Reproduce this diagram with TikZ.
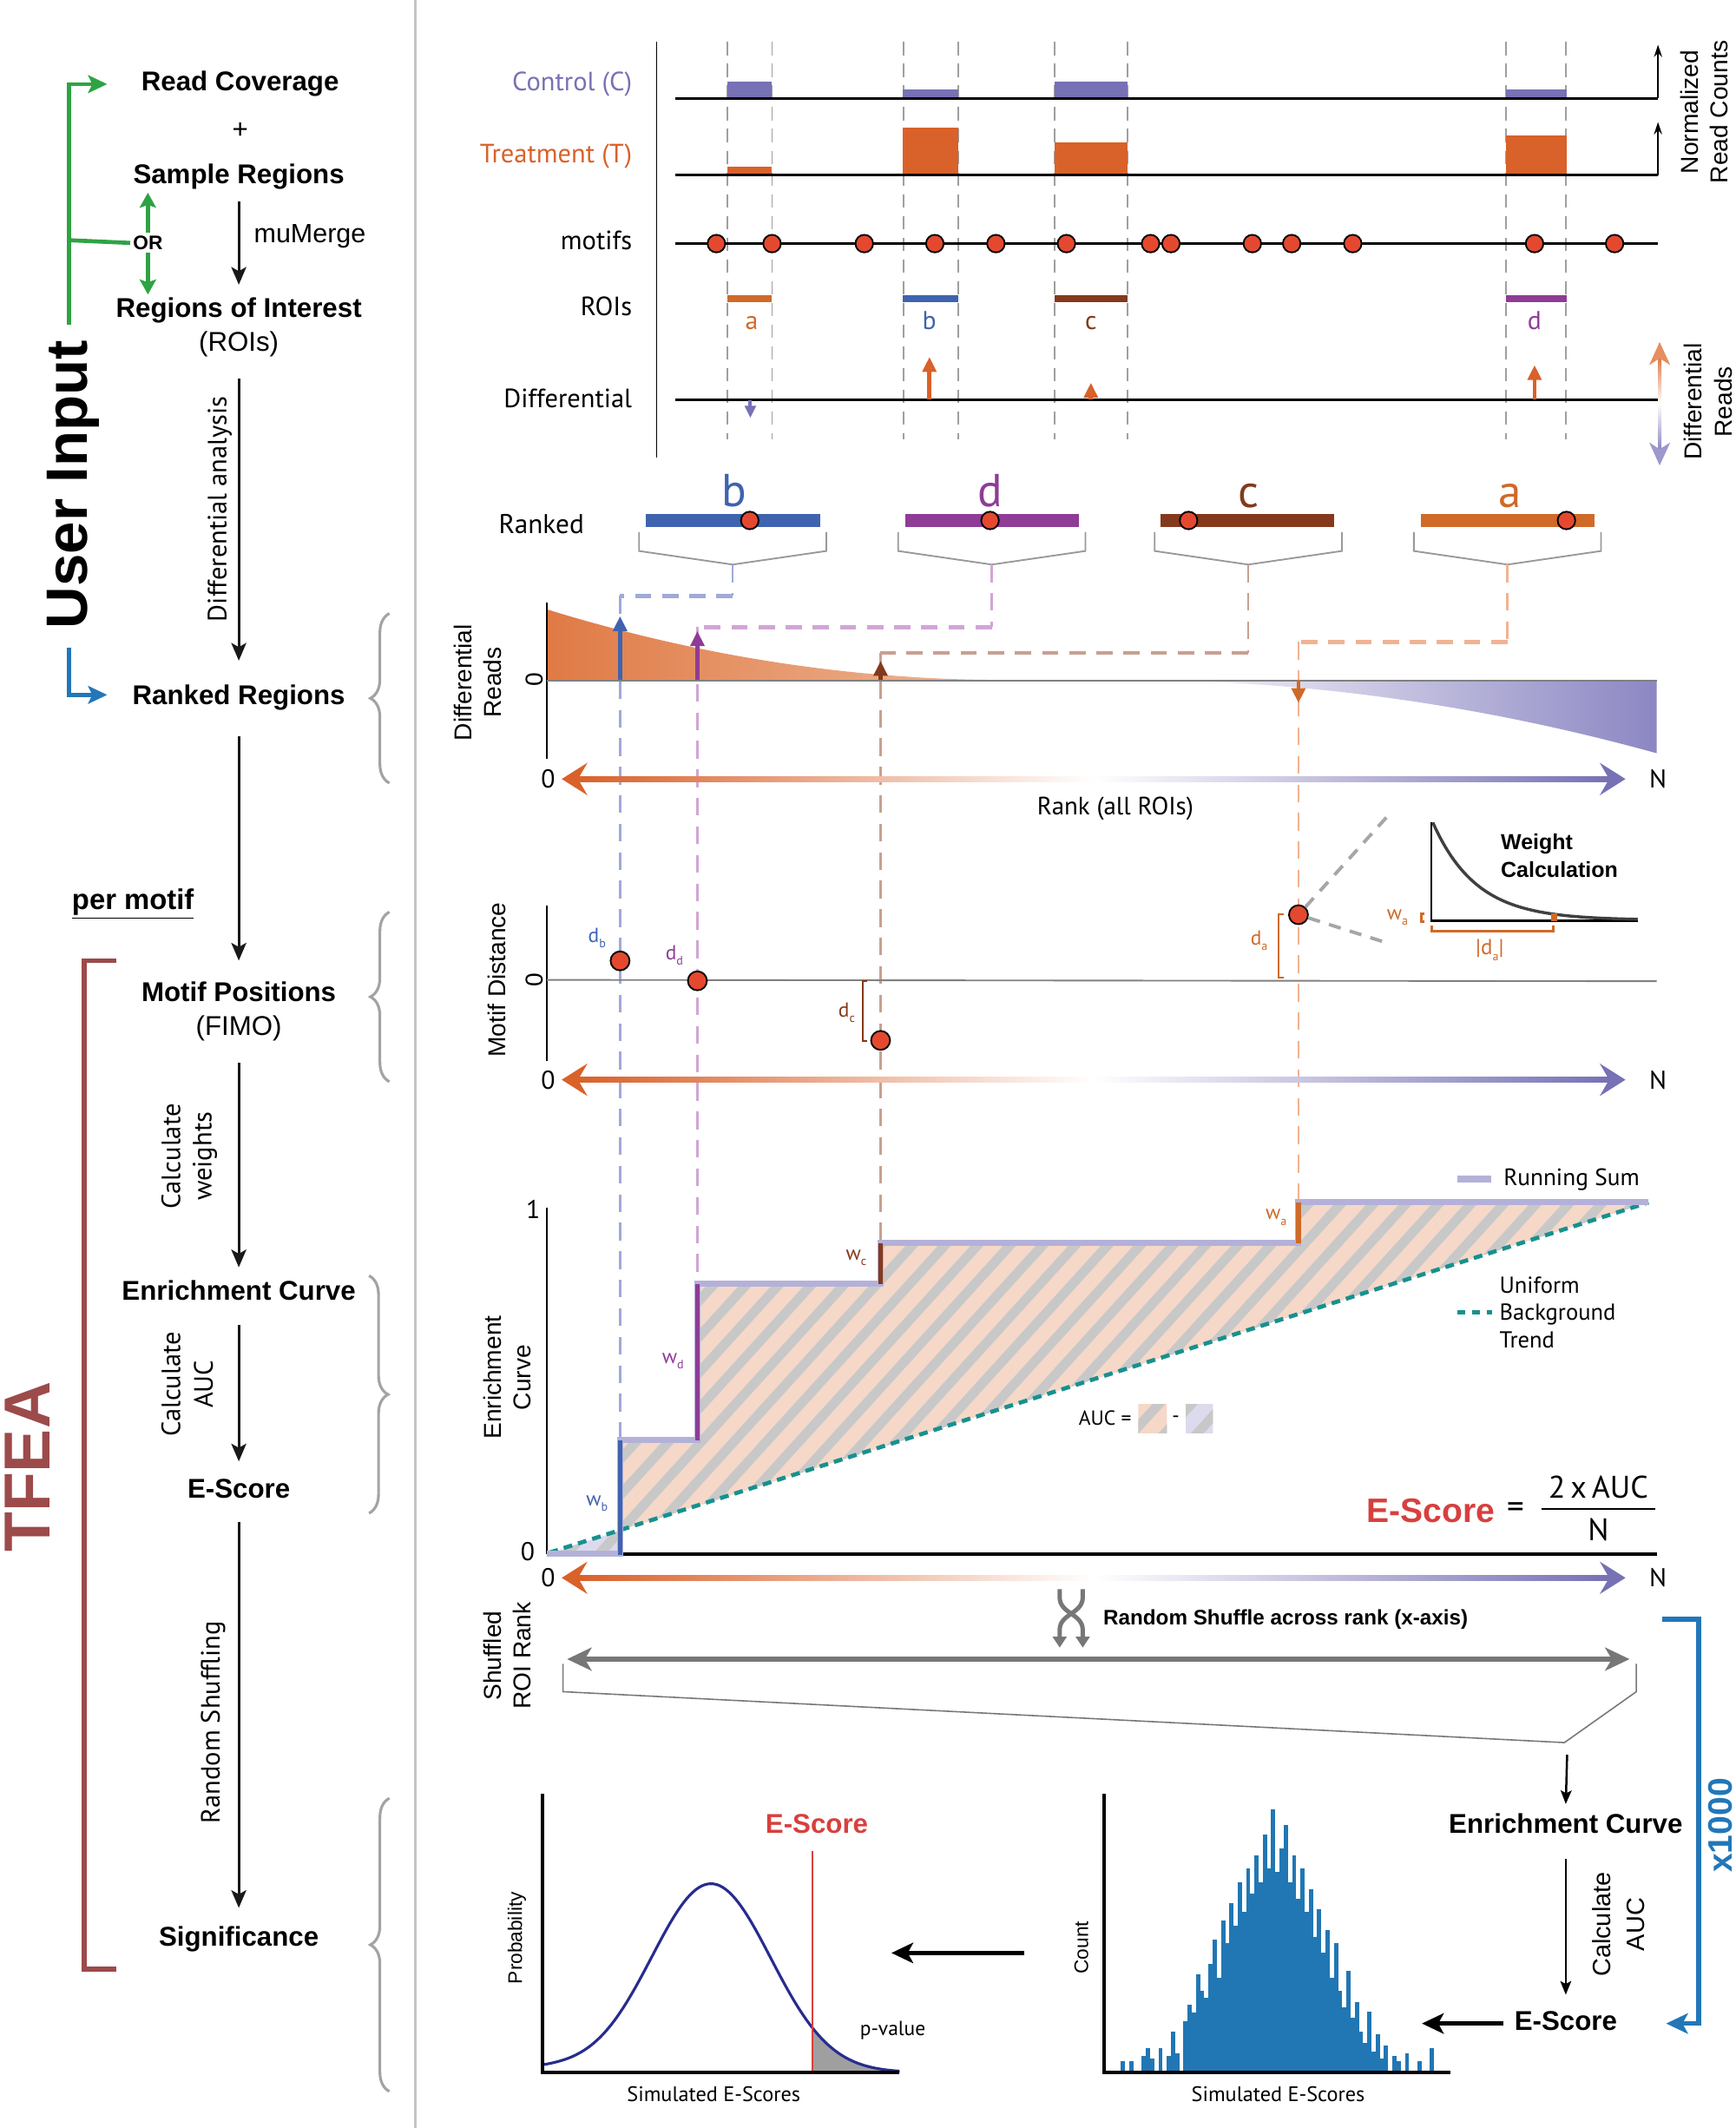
\documentclass[tikz,border=0pt]{standalone}
\usepackage{fontspec}
\setmainfont{Liberation Sans}
\newfontfamily\pts{PT Sans}
\usetikzlibrary{arrows.meta,decorations.pathreplacing}
\definecolor{cPu}{HTML}{7771B5}
\definecolor{cOr}{HTML}{D9612A}
\definecolor{rA}{HTML}{CF6A28}
\definecolor{rB}{HTML}{3F63AF}
\definecolor{rC}{HTML}{85391C}
\definecolor{rD}{HTML}{8E3C96}
\definecolor{dA}{HTML}{F1B391}
\definecolor{dB}{HTML}{A0A9D9}
\definecolor{dC}{HTML}{C8A090}
\definecolor{dD}{HTML}{D2A5D6}
\definecolor{motred}{HTML}{E4492F}
\definecolor{gGreen}{HTML}{2EA343}
\definecolor{gBlue}{HTML}{2277B8}
\definecolor{tfea}{HTML}{9C4A4A}
\definecolor{brgray}{HTML}{A3A3A3}
\definecolor{peach}{HTML}{F5D8C8}
\definecolor{lav}{HTML}{DCDBEE}
\definecolor{stripeg}{HTML}{C8C8C8}
\definecolor{rsum}{HTML}{B4B1D9}
\definecolor{teal}{HTML}{17918F}
\definecolor{hist}{HTML}{2077B4}
\definecolor{navy}{HTML}{272C8E}
\definecolor{escore}{HTML}{D7403D}
\definecolor{ldiv}{HTML}{C4C4C4}
\definecolor{oLt}{HTML}{EDB898}
\definecolor{oDk}{HTML}{E07A45}
\definecolor{pLt}{HTML}{D8D6EC}
\definecolor{pDk}{HTML}{8C87C3}
\definecolor{dgray}{HTML}{777777}
\newcommand\fsz[2]{\fontsize{#1}{#2}\selectfont}
\newcommand\gradaxis[1]{%
  \shade[left color=cOr, right color=cPu, middle color=white] (426,#1-2) rectangle (1186,#1+2);
  \fill[cOr] (414,#1) -- (433,#1-12) -- (426,#1) -- (433,#1+12) -- cycle;
  \fill[cPu] (1198,#1) -- (1179,#1-12) -- (1186,#1) -- (1179,#1+12) -- cycle;
}
\newcommand\stripeset{\foreach \s in {140,164,...,1244} {\draw[stripe] (\s,1160) -- ++(300,-330);}}
\begin{document}
\begin{tikzpicture}[x=1pt,y=-1pt,
  lbl/.style={font=\bfseries\fsz{20}{24}, inner sep=0pt, text height=14.5pt, text depth=4.5pt},
  lblr/.style={font=\fsz{20}{24}, inner sep=0pt, text height=14.5pt, text depth=4.5pt},
  flow/.style={draw=black!90, line width=2pt, -{Stealth[length=13pt,width=11pt,inset=3pt]}},
  rot/.style={font=\pts\fsz{19.5}{22}, rotate=90, inner sep=0pt},
  rowlbl/.style={font=\pts\fsz{19.5}{22}, anchor=east, inner sep=0pt},
  axl/.style={font=\fsz{18}{22}, rotate=90, align=center, inner sep=0pt},
  ptl/.style={font=\pts\fsz{19}{22}, inner sep=0pt},
  gdash/.style={draw=gray!75, line width=1.2pt, dash pattern=on 10pt off 6pt},
  bracegray/.style={draw=brgray, line width=2pt, decorate, decoration={brace, amplitude=14pt}},
  motif/.style={circle, fill=motred, draw=black, line width=1.2pt, minimum size=13pt, inner sep=0pt},
  conn/.style={line width=1.6pt, dash pattern=on 13pt off 8pt},
  connh/.style={line width=3pt, dash pattern=on 12pt off 8pt},
  darr/.style={line width=3pt, -{Triangle[length=11pt,width=10pt]}},
  stripe/.style={draw=stripeg, line width=7pt},
  garr/.style={draw=gGreen, line width=3pt, -{Stealth[length=14pt,width=13pt,inset=3pt]}},
  garrs/.style={draw=gGreen, line width=3pt, -{Stealth[length=11pt,width=12pt,inset=2pt]}},
  barr/.style={draw=gBlue, line width=3pt, -{Stealth[length=14pt,width=13pt,inset=3pt]}},
  sarr/.style={draw=black, line width=1.6pt, -{Stealth[length=10pt,width=8pt,inset=2pt]}},
  barrow/.style={draw=black, line width=3pt, -{Stealth[length=16pt,width=15pt,inset=4pt]}},
]
\useasboundingbox (0,0) rectangle (1279,1568);
\fill[white] (0,0) rectangle (1279,1568);

% divider
\draw[ldiv, line width=2pt] (306,0) -- (306,1568);

% ================= LEFT COLUMN =================
\node[lbl] (rc) at (177,62) {Read Coverage};
\node[font=\fsz{20}{24}, inner sep=0pt] (plus) at (177,96) {+};
\node[lbl] (sr) at (176,130) {Sample Regions};
\node[lbl] (roi) at (176,229) {Regions of Interest};
\node[lblr] (roib) at (176,254) {(ROIs)};
\node[font=\fsz{19.5}{23}, anchor=west, inner sep=0pt] (mm) at (187,174) {muMerge};
\node[font=\bfseries\fsz{14.5}{17}, inner sep=2pt] (or) at (109,179) {OR};
\node[lbl] (rr) at (176,514) {Ranked Regions};
\node[font=\bfseries\fsz{21}{24}, inner sep=0pt] (pm) at (98,666) {\underline{per motif}};
\node[lbl] (mp) at (176,733) {Motif Positions};
\node[lblr] (fimo) at (176,758) {(FIMO)};
\node[lbl] (ec) at (176,953) {Enrichment Curve};
\node[lbl] (es) at (176,1099) {E-Score};
\node[lbl] (sig) at (176,1429) {Significance};

\draw[flow] ([yshift=-8.5pt]sr.south) -- ([yshift=9.5pt]roi.north);
\draw[flow] ([yshift=-15.5pt]roib.south) -- ([yshift=17.5pt]rr.north);
\draw[flow] ([yshift=-18.5pt]rr.south) -- ([yshift=15.5pt]mp.north);
\draw[flow] ([yshift=-15.5pt]fimo.south) -- ([yshift=9.5pt]ec.north);
\draw[flow] ([yshift=-13.5pt]ec.south) -- ([yshift=12.5pt]es.north);
\draw[flow] ([yshift=-12.5pt]es.south) -- ([yshift=13.5pt]sig.north);

\node[rot] (da) at (162,375) {Differential analysis};
\node[rot] (cw1) at (126,852) {Calculate};
\node[rot] (cw2) at (151,852) {weights};
\node[rot] (ca1) at (126,1020) {Calculate};
\node[rot] (ca2) at (150,1020) {AUC};
\node[rot] (rsh) at (157,1269) {Random Shuffling};

% user input
\node[rotate=90, font=\bfseries\fsz{43}{43}, inner sep=0pt] (ui) at (54,357) {User Input};
\coordinate (g0) at (51,239);
\coordinate (g1) at (79,62);
\draw[garr] (g0) |- (g1);
\coordinate (g2) at (51,177);
\draw[draw=gGreen, line width=3pt] (g2) -- (or.west);
\coordinate (g3) at (109,142);
\coordinate (g4) at (109,217);
\draw[garrs] (or.north) -- (g3);
\draw[garrs] (or.south) -- (g4);
\coordinate (b0) at (51,477);
\coordinate (b1) at (79,512);
\draw[barr] (b0) |- (b1);

% TFEA
\node[rotate=90, font=\bfseries\fsz{48}{48}, text=tfea, inner sep=0pt] (tf) at (20,1081) {TFEA};
\draw[tfea, line width=3.5pt] (86,708) -- (62,708) -- (62,1451) -- (86,1451);

% braces
\draw[bracegray] (287,577) -- (287,452);
\draw[bracegray] (287,797) -- (287,672);
\draw[bracegray] (272,940) -- (272,1115);
\draw[bracegray] (287,1541) -- (287,1325);

% ================= TOP PANEL =================
\draw[line width=1pt] (484,31) -- (484,337);
\foreach \x in {536,569,666,706,777,831,1110,1154} \draw[gdash] (\x,31) -- (\x,324);

\node[rowlbl, text=cPu] (lc) at (466,62) {Control (C)};
\node[rowlbl, text=cOr] (lt) at (466,115) {Treatment (T)};
\node[rowlbl] (lm) at (466,177) {motifs};
\node[rowlbl] (lr) at (466,226) {ROIs};
\node[rowlbl] (ld) at (466,293.5) {Differential};

% control
\fill[cPu] (536,60) rectangle (569,72.5);
\fill[cPu] (665,66) rectangle (706,72.5);
\fill[cPu] (777,60) rectangle (831,72.5);
\fill[cPu] (1110,66) rectangle (1155,72.5);
\draw[line width=2pt] (498,72.5) -- (1222,72.5);
\draw[line width=1.2pt, -{Stealth[length=9pt,width=6pt]}] (1222,72.5) -- (1222,33);
% treatment
\fill[cOr] (536,123) rectangle (569,129);
\fill[cOr] (665,94) rectangle (706,129);
\fill[cOr] (777,105) rectangle (831,129);
\fill[cOr] (1110,100) rectangle (1155,129);
\draw[line width=2pt] (498,129) -- (1222,129);
\draw[line width=1.2pt, -{Stealth[length=9pt,width=6pt]}] (1222,129) -- (1222,90);
\node[axl] (nrc) at (1256,82.5) {Normalized\\Read Counts};

% motifs
\draw[line width=2pt] (498,179.5) -- (1222,179.5);
\foreach \x [count=\i] in {528,569,637,689,734,786,848,863,923,952,997,1131,1190}
  \node[motif] (m\i) at (\x,179.5) {};

% ROIs
\fill[rA] (536,217.5) rectangle (569,222.5);
\fill[rB] (665,217.5) rectangle (706,222.5);
\fill[rC] (777,217.5) rectangle (831,222.5);
\fill[rD] (1110,217.5) rectangle (1155,222.5);
\node[font=\pts\fsz{19}{22}, text=rA, anchor=base, inner sep=0pt] (ra) at (554,243) {a};
\node[font=\pts\fsz{19}{22}, text=rB, anchor=base, inner sep=0pt] (rb) at (685,243) {b};
\node[font=\pts\fsz{19}{22}, text=rC, anchor=base, inner sep=0pt] (rcc) at (804,243) {c};
\node[font=\pts\fsz{19}{22}, text=rD, anchor=base, inner sep=0pt] (rd) at (1131,243) {d};

% differential row
\draw[line width=2pt] (498,294.5) -- (1222,294.5);
\draw[cPu, line width=2.5pt, -{Triangle[length=9pt,width=8pt]}] (553,295) -- (553,308);
\draw[cOr, darr] (685,294.5) -- (685,263);
\draw[cOr, darr] (804,294.5) -- (804,282);
\draw[cOr, darr] (1131,294.5) -- (1131,269);
\shade[top color=oDk, bottom color=pDk, middle color=white] (1222,264) rectangle (1224.5,331);
\fill[oDk!85] (1223.2,252) -- (1215.5,269) -- (1223.2,264) -- (1231,269) -- cycle;
\fill[pDk!85] (1223.2,343) -- (1215.5,326) -- (1223.2,331) -- (1231,326) -- cycle;
\node[axl] (drl) at (1259,296) {Differential\\Reads};

% ================= RANKED =================
\node[font=\pts\fsz{20}{24}, inner sep=0pt] (rk) at (399,386) {Ranked};
\fill[rB] (476,379) rectangle (604.5,388);
\fill[rD] (667.5,379) rectangle (795.5,388);
\fill[rC] (855.5,379) rectangle (983.5,388);
\fill[rA] (1047,379) rectangle (1175,388);
\node[motif] (kb) at (552.6,383.5) {};
\node[motif] (kd) at (729.7,383.5) {};
\node[motif] (kc) at (876,383.5) {};
\node[motif] (ka) at (1154.5,383.5) {};
\node[font=\pts\fsz{34}{40}, text=rB, anchor=base, inner sep=0pt] (Lb) at (541,373) {b};
\node[font=\pts\fsz{34}{40}, text=rD, anchor=base, inner sep=0pt] (Ld) at (730,373) {d};
\node[font=\pts\fsz{34}{40}, text=rC, anchor=base, inner sep=0pt] (Lc) at (920,374) {c};
\node[font=\pts\fsz{34}{40}, text=rA, anchor=base, inner sep=0pt] (La) at (1113,374) {a};
\foreach \c in {540,731,920,1111}
  \draw[gray!80, line width=1.2pt] (\c-69,392) -- (\c-69,406) -- (\c,416) -- (\c+69,406) -- (\c+69,392);

% ================= DIFFERENTIAL PLOT =================
\shade[left color=oDk, right color=oLt] (403,501) -- (403,449) .. controls (515.7,483.7) and (628.3,501) .. (741,501) -- cycle;
\shade[left color=white, right color=pDk] (830,501) .. controls (960.3,501) and (1090.7,519) .. (1221,555) -- (1221,501) -- cycle;

% connectors (dashed)
\draw[dB, conn] (540,416) -- (540,439);
\draw[dB, connh] (540,439) -- (457,439);
\draw[dB, conn] (457,439) -- (457,1061);
\draw[dD, conn] (731,416) -- (731,462);
\draw[dD, connh] (731,462) -- (514,462);
\draw[dD, conn] (514,462) -- (514,946);
\draw[dC, conn] (920,416) -- (920,481);
\draw[dC, connh] (920,481) -- (649,481);
\draw[dC, conn] (649,481) -- (649,916);
\draw[dA, conn] (1111,416) -- (1111,473);
\draw[dA, connh] (1111,473) -- (957,473);
\draw[dA, conn] (957,473) -- (957,886);

\draw[line width=1pt] (403,444) -- (403,559);
\draw[gray, line width=1.5pt] (403,501.5) -- (1221,501.5);
\draw[rB, darr] (457,501) -- (457,454);
\draw[rD, darr] (514,501) -- (514,465);
\draw[rC, darr] (649,501) -- (649,487);
\draw[rA, darr] (957,501) -- (957,518);
\node[axl] (z0d) at (394,501) {0};
\node[axl] (dlab) at (352,503) {Differential\\Reads};

\gradaxis{574}
\node[ptl] (z1) at (404,574) {0};
\node[ptl] (n1) at (1222,574) {N};
\node[font=\pts\fsz{18.5}{22}, inner sep=0pt] (rkl) at (822,596) {Rank (all ROIs)};

% ================= MOTIF DISTANCE =================
\draw[line width=1pt] (403,667) -- (403,782);
\draw[gray, line width=1.2pt] (403,722) -- (1221,723);
\node[axl] (z0m) at (394,722) {0};
\node[axl] (mdl) at (366,722) {Motif Distance};
\draw[rC, line width=1.5pt] (639,723) -- (636,723) -- (636,767) -- (639,767);
\draw[rA, line width=1.5pt] (946,673.5) -- (942.5,673.5) -- (942.5,720.5) -- (946,720.5);
\node[motif, minimum size=14pt] (pb) at (457,708) {};
\node[motif, minimum size=14pt] (pd) at (514,722.7) {};
\node[motif, minimum size=14pt] (pc) at (649,766.6) {};
\node[motif, minimum size=14pt] (pa) at (957,674) {};
\node[font=\pts\fsz{15}{18}, text=rB, inner sep=0pt] (ldb) at (440,691) {d\raisebox{-4pt}{\fsz{9}{9}b}};
\node[font=\pts\fsz{15}{18}, text=rD, inner sep=0pt] (ldd) at (497,704) {d\raisebox{-4pt}{\fsz{9}{9}d}};
\node[font=\pts\fsz{15}{18}, text=rC, inner sep=0pt] (ldc) at (624,746) {d\raisebox{-4pt}{\fsz{9}{9}c}};
\node[font=\pts\fsz{15}{18}, text=rA, inner sep=0pt] (lda) at (928,693) {d\raisebox{-4pt}{\fsz{9}{9}a}};

% weight inset
\coordinate (wi1) at (1023,601);
\coordinate (wi2) at (1023,695);
\draw[gray!70, line width=2.5pt, dash pattern=on 9pt off 7pt] (pa) -- (wi1);
\draw[gray!70, line width=2.5pt, dash pattern=on 9pt off 7pt] (pa) -- (wi2);
\draw[line width=1.5pt] (1055,606) -- (1055,678.5) -- (1207,678.5);
\draw[gray!50!black, line width=2.2pt] plot[domain=1056:1207, samples=80] (\x, {678-72*exp(-(\x-1056)/32)});
\fill[rA] (1143,673) rectangle (1147.5,678.5);
\draw[rA, line width=2pt] (1055,682) -- (1055,686) -- (1145,686) -- (1145,682);
\draw[rA, line width=2pt] (1050,673.5) -- (1047.5,673.5) -- (1047.5,679) -- (1050,679);
\node[font=\pts\fsz{15}{18}, text=rA, inner sep=0pt] (lwa) at (1030,676) {w\raisebox{-4pt}{\fsz{9}{9}a}};
\node[font=\pts\fsz{16}{18}, text=rA, inner sep=0pt] (lda2) at (1098,700) {|d\raisebox{-4pt}{\fsz{9}{9}a}|};
\node[font=\bfseries\fsz{16}{20.5}, align=left, anchor=west, inner sep=0pt] (wc) at (1106,630.5) {Weight\\Calculation};

\gradaxis{795.6}
\node[ptl] (z2) at (404,795.6) {0};
\node[ptl] (n2) at (1222,795.6) {N};

% ================= ENRICHMENT =================
\begin{scope}
  \clip (457,1127.8) -- (457,1061) -- (514,1061) -- (514,946) -- (649,946) -- (649,916) -- (957,916) -- (957,886) -- (1215,886) -- cycle;
  \fill[peach] (400,880) rectangle (1220,1150);
  \stripeset
\end{scope}
\begin{scope}
  \clip (403,1145) -- (457,1145) -- (457,1127.8) -- cycle;
  \fill[lav] (400,1100) rectangle (460,1150);
  \stripeset
\end{scope}
\draw[line width=1pt] (403,890) -- (403,1145);
\draw[line width=2.5pt] (403,1145) -- (1221,1145);
\draw[teal, line width=3pt, dash pattern=on 6.5pt off 4.5pt] (405,1144) -- (1215,886);
\draw[rsum, line width=4.5pt] (403,1145) -- (457,1145) -- (457,1061) -- (514,1061) -- (514,946) -- (649,946) -- (649,916) -- (957,916) -- (957,886) -- (1215,886);
\draw[rB, line width=3.5pt] (457,1146) -- (457,1061);
\draw[rD, line width=3.5pt] (514,1061) -- (514,946);
\draw[rC, line width=3.5pt] (649,946) -- (649,916);
\draw[rA, line width=3.5pt] (957,916) -- (957,886);
\node[font=\pts\fsz{15}{18}, text=rB, inner sep=0pt] (lwb) at (440,1108) {w\raisebox{-4pt}{\fsz{9}{9}b}};
\node[font=\pts\fsz{15}{18}, text=rD, inner sep=0pt] (lwd) at (496,1003) {w\raisebox{-4pt}{\fsz{9}{9}d}};
\node[font=\pts\fsz{15}{18}, text=rC, inner sep=0pt] (lwc) at (631,927) {w\raisebox{-4pt}{\fsz{9}{9}c}};
\node[font=\pts\fsz{15}{18}, text=rA, inner sep=0pt] (lwa2) at (940.5,897) {w\raisebox{-4pt}{\fsz{9}{9}a}};
\node[ptl] (one) at (393,891) {1};
\node[ptl] (zero) at (389,1143) {0};
\node[axl] (ecl) at (374,1015) {Enrichment\\Curve};

\draw[rsum, line width=5pt] (1074,869) -- (1099,869);
\node[font=\pts\fsz{17.5}{20}, anchor=west, inner sep=0pt] (lrs) at (1108,869) {Running Sum};
\draw[teal, line width=3.5pt, dash pattern=on 6pt off 5pt] (1074,967) -- (1100,967);
\node[font=\pts\fsz{17}{20.3}, anchor=west, align=left, inner sep=0pt] (lub) at (1105,967) {Uniform\\Background\\Trend};

\node[font=\pts\fsz{15}{18}, anchor=east, inner sep=0pt] (auc) at (834,1045) {AUC =};
\begin{scope}
  \clip (839,1035) rectangle (860,1056);
  \fill[peach] (830,1030) rectangle (870,1060);
  \stripeset
\end{scope}
\node[font=\pts\fsz{15}{18}, inner sep=0pt] (aucm) at (866.5,1046) {-};
\begin{scope}
  \clip (874,1035) rectangle (894,1056);
  \fill[lav] (870,1030) rectangle (900,1060);
  \stripeset
\end{scope}

\node[font=\bfseries\fsz{25}{28}, text=escore, anchor=east, inner sep=0pt] (efl) at (1102,1113) {E-Score};
\node[font=\pts\fsz{25}{28}, inner sep=0pt] (eq) at (1117,1113) {=};
\node[font=\pts\fsz{23}{26}, inner sep=0pt] (num) at (1178,1096) {2\,x\,AUC};
\draw[line width=1.5pt] (1136,1112) -- (1220,1112);
\node[font=\pts\fsz{23}{26}, inner sep=0pt] (den) at (1178,1127) {N};

\gradaxis{1162.6}
\node[ptl] (z3) at (404,1162.6) {0};
\node[ptl] (n3) at (1222,1162.6) {N};

% ================= SHUFFLE =================
\draw[dgray, line width=3.2pt, -{Triangle[length=8pt,width=10pt]}] (781,1171) -- (781,1177) .. controls (781,1189) and (798,1189) .. (798,1201) -- (798,1214);
\draw[dgray, line width=3.2pt, -{Triangle[length=8pt,width=10pt]}] (798,1171) -- (798,1177) .. controls (798,1189) and (781,1189) .. (781,1201) -- (781,1214);
\node[font=\bfseries\fsz{15.5}{18}, anchor=west, inner sep=0pt] (rsl) at (813,1193) {Random Shuffle across rank (x-axis)};
\draw[dgray, line width=4pt, {Stealth[length=18pt,width=17pt,inset=5pt]}-{Stealth[length=18pt,width=17pt,inset=5pt]}] (418,1222.5) -- (1201,1222.5);
\draw[dgray, line width=1pt] (415,1226) -- (415,1246.5) -- (1153,1284) -- (1206,1246.5) -- (1206,1226);
\node[axl] (srr) at (374,1220) {Shuffled\\ROI Rank};

% x1000 loop
\node[rotate=90, font=\bfseries\fsz{25}{28}, text=gBlue, inner sep=0pt] (x1k) at (1268,1345) {x1000};

% bottom right flow
\node[lbl] (ec2) at (1154,1346) {Enrichment Curve};
\node[lbl] (es2) at (1154,1491) {E-Score};
\coordinate (fun) at (1155,1293);
\draw[sarr] (fun) -- ([yshift=7pt]ec2.north);
\draw[sarr] ([yshift=-14pt]ec2.south) -- ([yshift=11.5pt]es2.north);
\node[axl, font=\fsz{18.5}{25}] (cal2) at (1193,1418) {Calculate\\AUC};
\coordinate (lp0) at (1225,1193);
\coordinate (lp1) at (1228,1491);
\draw[draw=gBlue, line width=3.5pt, -{Stealth[length=16pt,width=15pt,inset=4pt]}] (lp0) -- (1252,1193) -- (1252,1491) -- (lp1);

% histogram
\foreach \h [count=\i from 0] in {8,0,8,0,0,12,18,10,0,18,0,12,30,14,0,38,50,44,72,60,55,80,98,70,112,95,125,108,140,118,150,132,160,140,175,150,194,148,165,182,140,160,128,150,118,135,100,120,88,105,70,95,60,48,75,40,52,30,22,45,15,28,10,20,0,12,8,0,14,0,0,8,0,0,18}
  \fill[hist] (826+3.08*\i,1527) rectangle ++(3.08,-\h);
\draw[line width=2.5pt] (814,1322) -- (814,1527) -- (1069,1527);
\node[axl, font=\fsz{14.5}{17}] (cnt) at (797,1435) {Count};
\node[font=\pts\fsz{15.5}{18}, inner sep=0pt] (sim2) at (942,1543) {Simulated E-Scores};
\draw[barrow] ([xshift=-8pt]es2.west) -- (1048,1491);
\coordinate (h2p) at (755,1439);
\coordinate (pend) at (657,1439);
\draw[barrow] (h2p) -- (pend);

% probability
\fill[gray!75] (598.6,1527) -- plot[domain=598.6:663, samples=40] (\x, {1527-139*exp(-0.5*((\x-524)/44)^2)}) -- (663,1527) -- cycle;
\draw[navy, line width=2pt] plot[domain=400:663, samples=120] (\x, {1527-139*exp(-0.5*((\x-524)/44)^2)-3*exp(-0.5*((\x-400)/30)^2)});
\draw[escore, line width=1.2pt] (598.6,1364) -- (598.6,1527);
\draw[line width=2.5pt] (400,1322) -- (400,1527) -- (663,1527);
\node[font=\bfseries\fsz{20}{24}, text=escore, inner sep=0pt] (esr) at (602,1344) {E-Score};
\node[font=\pts\fsz{15}{18}, inner sep=0pt] (pv) at (658,1496) {p-value};
\node[axl, font=\fsz{14.5}{17}] (prob) at (381,1428) {Probability};
\node[font=\pts\fsz{15.5}{18}, inner sep=0pt] (sim1) at (526,1543) {Simulated E-Scores};
\end{tikzpicture}
\end{document}
